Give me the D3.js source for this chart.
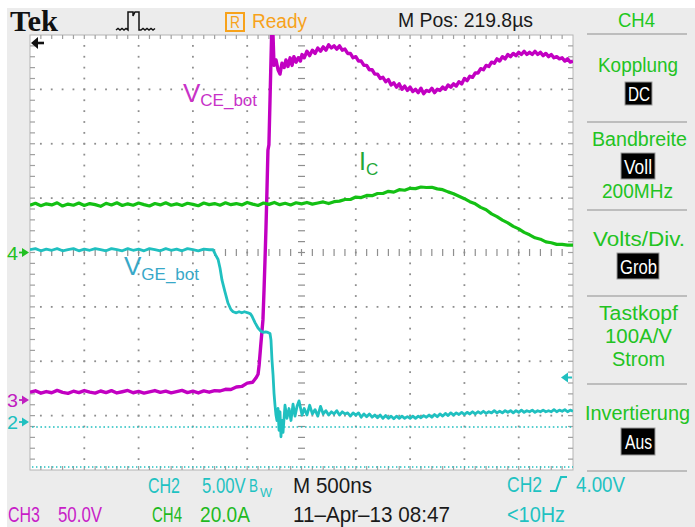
<!DOCTYPE html>
<html><head><meta charset="utf-8">
<script src="https://cdn.jsdelivr.net/npm/d3@7"></script>
<style>html,body{margin:0;padding:0;background:#fff}svg{display:block}</style>
</head><body>
<svg id="c" width="695" height="527"></svg>
<script>
// ---------- DATA ----------
// time in ns (0 = screen centre), 500 ns/div
const timeRange = [-2500, 2500];
// CH3: V_CE_bot [ns, V]  (50 V/div)
const vceBot = [[-2500,3.5],[-2450,4.8],[-2400,2.6],[-2350,4.1],[-2300,3.0],[-2250,5.2],[-2200,3.4],[-2150,2.4],[-2100,4.4],[-2050,3.1],[-2000,5.0],[-1950,3.6],[-1900,2.7],[-1850,4.6],[-1800,3.2],[-1750,4.9],[-1700,2.8],[-1650,3.9],[-1600,5.1],[-1550,3.0],[-1500,4.2],[-1450,2.6],[-1400,3.8],[-1350,5.0],[-1300,3.3],[-1250,4.5],[-1200,2.9],[-1150,4.0],[-1100,5.2],[-1050,3.1],[-1000,4.4],[-950,2.8],[-900,4.7],[-850,3.5],[-800,4.9],[-750,4.6],[-700,6.2],[-650,6.0],[-600,8.3],[-550,8.8],[-500,11.8],[-450,12.6],[-420,16.5],[-400,20.0],[-390,28.5],[-375,46.9],[-355,70],[-345,97.5],[-336,125],[-327,155],[-318,189],[-309,226],[-300,231],[-290,272],[-281,309],[-272,345],[-262,331],[-253,304],[-235,309],[-216,300],[-198,296],[-180,306],[-160,302],[-143,309],[-125,303],[-105,311],[-87,304],[-70,312],[-50,307],[-30,311],[-10,308],[5,314],[25,311],[50,317],[75,313],[100,318],[125,315],[150,320],[175,317],[200,321],[225,318],[250,323],[275,320],[300,322],[325,319],[350,322],[375,318],[400,319],[425,315],[450,315],[475,311],[500,312],[525,308],[550,308],[575,304],[600,304],[625,300],[650,300],[675,296],[700,296],[725,292],[750,293],[775,289],[800,291],[825,286],[850,288],[875,284],[900,287],[925,282],[950,285],[975,281],[1000,284],[1025,280],[1050,282],[1075,279],[1100,283],[1125,278],[1150,281],[1175,280],[1200,283],[1225,279],[1250,282],[1275,281],[1300,284],[1325,282],[1350,286],[1375,284],[1400,287],[1425,285],[1450,289],[1475,287],[1500,292],[1525,290],[1550,294],[1575,293],[1600,297],[1625,297],[1650,301],[1675,300],[1700,304],[1725,303],[1750,307],[1775,306],[1800,310],[1825,308],[1850,312],[1875,310],[1900,314],[1925,312],[1950,315],[1975,313],[2000,316],[2025,314],[2050,317],[2075,314],[2100,316],[2125,314],[2150,317],[2175,314],[2200,316],[2225,313],[2250,315],[2275,312],[2300,314],[2325,311],[2350,312],[2375,310],[2400,311],[2425,308],[2450,310],[2475,307],[2500,308]];
// CH4: I_C [ns, A]  (20 A/div)
const iC = [[-2500,17.4],[-2450,18.1],[-2400,17.2],[-2350,17.9],[-2300,17.5],[-2250,18.3],[-2200,17.1],[-2150,17.8],[-2100,17.4],[-2050,18.2],[-2000,17.3],[-1950,18.0],[-1900,17.6],[-1850,17.0],[-1800,18.1],[-1750,17.5],[-1700,18.3],[-1650,17.3],[-1600,17.9],[-1550,17.4],[-1500,18.2],[-1450,17.6],[-1400,17.1],[-1350,18.0],[-1300,17.5],[-1250,18.3],[-1200,17.4],[-1150,17.9],[-1100,17.3],[-1050,18.1],[-1000,17.7],[-950,17.2],[-900,18.2],[-850,17.6],[-800,18.0],[-750,17.4],[-700,18.3],[-650,17.6],[-600,18.0],[-550,17.5],[-500,18.4],[-450,17.8],[-400,17.3],[-350,18.2],[-300,17.7],[-250,18.4],[-200,17.6],[-150,18.1],[-100,17.5],[-50,18.3],[0,17.9],[50,18.4],[100,17.8],[150,18.2],[200,18.6],[250,18.0],[300,18.7],[350,18.9],[400,19.5],[450,19.5],[500,20.4],[550,20.2],[600,21.0],[650,20.9],[700,21.7],[750,21.7],[800,22.5],[850,22.2],[900,23.1],[950,22.9],[1000,23.6],[1050,23.5],[1100,24.1],[1150,23.9],[1200,24.0],[1250,23.4],[1300,23.1],[1350,22.3],[1400,21.6],[1450,20.7],[1500,19.8],[1550,18.7],[1600,17.9],[1650,16.6],[1700,15.7],[1750,14.2],[1800,13.2],[1850,11.9],[1900,10.9],[1950,9.6],[2000,8.7],[2050,7.4],[2100,6.5],[2150,5.4],[2200,4.9],[2250,3.9],[2300,3.6],[2350,3.0],[2400,3.0],[2450,2.7],[2500,2.7]];
// CH2: V_GE_bot [ns, V]  (5 V/div)
const vgeBot = [[-2500,16.3],[-2450,16.4],[-2400,16.2],[-2350,16.35],[-2300,16.25],[-2250,16.4],[-2200,16.2],[-2150,16.3],[-2100,16.4],[-2050,16.2],[-2000,16.35],[-1950,16.25],[-1900,16.4],[-1850,16.3],[-1800,16.2],[-1750,16.4],[-1700,16.3],[-1650,16.2],[-1600,16.4],[-1550,16.25],[-1500,16.35],[-1450,16.2],[-1400,16.4],[-1350,16.3],[-1300,16.2],[-1250,16.4],[-1200,16.25],[-1150,16.35],[-1100,16.2],[-1050,16.4],[-1000,16.3],[-950,16.2],[-900,16.35],[-850,16.3],[-815,16.3],[-790,15.8],[-768,15.4],[-750,14.6],[-732,13.5],[-704,12.4],[-677,11.4],[-650,10.8],[-630,10.6],[-600,10.5],[-575,10.6],[-550,10.5],[-525,10.6],[-493,10.5],[-470,10.4],[-456,10.2],[-428,9.6],[-400,9.1],[-373,8.8],[-350,8.7],[-330,8.75],[-310,8.7],[-290,8.6],[-281,8.0],[-272,6.2],[-262,4.8],[-253,3.1],[-244,2.0],[-235,1.1],[-226,0.6],[-216,1.7],[-207,-0.3],[-198,1.4],[-189,-0.9],[-180,0.6],[-170,-0.5],[-152,2.0],[-134,0.8],[-115,1.7],[-97,0.6],[-78,2.1],[-60,1.0],[-41,1.9],[-23,2.4],[5,1.1],[25,1.7],[50,1.1],[75,2.0],[100,1.2],[125,1.6],[150,1.0],[175,1.9],[200,1.2],[225,1.5],[250,1.1],[275,1.4],[300,1.2],[325,1.5],[350,1.1],[375,1.4],[400,1.2],[425,1.3],[450,1.0],[475,1.3],[500,1.1],[525,1.3],[550,0.9],[575,1.2],[600,0.95],[625,1.2],[650,0.9],[675,1.1],[700,0.85],[725,1.1],[750,0.8],[775,1.05],[800,0.8],[825,1.0],[850,0.75],[875,1.0],[900,0.8],[925,1.0],[950,0.8],[975,0.95],[1000,0.8],[1025,1.0],[1050,0.8],[1075,1.0],[1100,0.85],[1125,1.05],[1150,0.9],[1175,1.1],[1200,0.9],[1225,1.15],[1250,0.95],[1275,1.2],[1300,1.0],[1325,1.25],[1350,1.05],[1375,1.3],[1400,1.1],[1425,1.3],[1450,1.15],[1475,1.35],[1500,1.15],[1525,1.35],[1550,1.2],[1575,1.4],[1600,1.2],[1625,1.4],[1650,1.25],[1675,1.45],[1700,1.25],[1725,1.4],[1750,1.3],[1775,1.5],[1800,1.3],[1825,1.45],[1850,1.3],[1875,1.5],[1900,1.35],[1925,1.5],[1950,1.3],[1975,1.5],[2000,1.35],[2025,1.55],[2050,1.35],[2075,1.5],[2100,1.4],[2125,1.55],[2150,1.35],[2175,1.5],[2200,1.4],[2225,1.55],[2250,1.4],[2275,1.5],[2300,1.4],[2325,1.6],[2350,1.4],[2375,1.55],[2400,1.45],[2425,1.6],[2450,1.4],[2475,1.55],[2500,1.45]];
// channel settings
const chNames = ["CH2","CH3","CH4"];
const chPerDiv = [5, 50, 20];
const triggerLevel = 4.0; // V on CH2
// texts
const topTexts = ["Tek","R","Ready","M Pos: 219.8µs","CH4"];
const panelTexts = ["Kopplung","DC","Bandbreite","Voll","200MHz","Volts/Div.","Grob","Tastkopf","100A/V","Strom","Invertierung","Aus"];
const bottomTexts = ["CH2","5.00V","B","W","M 500ns","CH2","4.00V","CH3","50.0V","CH4","20.0A","11\u2013Apr\u201313 08:47","<10Hz"];
const traceLabels = [["V","CE_bot"],["I","C"],["V","GE_bot"]];

// ---------- DRAW ----------
const svg = d3.select('#c');
const W = 695, H = 527;
const L = 30, R = 573, T = 35, B = 470;
const divY = (B - T) / 8;
const SCOPE = "'Liberation Sans', Arial, sans-serif";

svg.append('rect').attr('width', W).attr('height', H).attr('fill', '#fff');
svg.append('rect').attr('x', 7).attr('y', 8).attr('width', W - 7).attr('height', H - 8).attr('fill', '#ececec');
svg.append('rect').attr('x', L).attr('y', T).attr('width', R - L).attr('height', B - T)
  .attr('fill', '#fff').attr('stroke', '#b4b4b4').attr('stroke-width', 1);

const x = d3.scaleLinear().domain(timeRange).range([L, R]);
function yFor(perDiv, zeroY) {
  return d3.scaleLinear().domain([(zeroY - B) / divY * perDiv, (zeroY - T) / divY * perDiv]).range([B, T]);
}
const zeroY = {CH2: 427, CH3: 396, CH4: 252.5};
const y2 = yFor(chPerDiv[0], zeroY.CH2);
const y3 = yFor(chPerDiv[1], zeroY.CH3);
const y4 = yFor(chPerDiv[2], zeroY.CH4);

// grid
const g = svg.append('g');
const minorT = d3.range(-2400, 2401, 100);
const minorY = d3.range(1, 40).map(j => T + j * divY / 5);
const majorT = [-2000, -1500, -1000, -500, 500, 1000, 1500, 2000];
const majorY = [1, 2, 3, 5, 6, 7].map(k => T + k * divY);
const dotCol = '#8e8e8e';
majorT.forEach(t => minorY.forEach(yy => g.append('rect').attr('x', x(t) - 0.9).attr('y', yy - 0.9).attr('width', 1.8).attr('height', 1.8).attr('fill', dotCol)));
majorY.forEach(yy => minorT.forEach(t => g.append('rect').attr('x', x(t) - 0.9).attr('y', yy - 0.9).attr('width', 1.8).attr('height', 1.8).attr('fill', dotCol)));
const xc = x(0), yc = T + 4 * divY;
minorY.forEach(yy => g.append('line').attr('x1', xc - 3.5).attr('x2', xc + 3.5).attr('y1', yy).attr('y2', yy).attr('stroke', dotCol).attr('stroke-width', 1.2));
minorT.forEach(t => g.append('line').attr('x1', x(t)).attr('x2', x(t)).attr('y1', yc - 3.5).attr('y2', yc + 3.5).attr('stroke', dotCol).attr('stroke-width', 1.2));
// border ticks
minorT.forEach(t => {
  g.append('line').attr('x1', x(t)).attr('x2', x(t)).attr('y1', T).attr('y2', T + 4).attr('stroke', '#a0a0a0').attr('stroke-width', 1.2);
  g.append('line').attr('x1', x(t)).attr('x2', x(t)).attr('y1', B - 4).attr('y2', B).attr('stroke', '#a0a0a0').attr('stroke-width', 1.2);
});
minorY.forEach(yy => {
  g.append('line').attr('x1', L).attr('x2', L + 5).attr('y1', yy).attr('y2', yy).attr('stroke', '#a0a0a0').attr('stroke-width', 1.2);
  g.append('line').attr('x1', R - 5).attr('x2', R).attr('y1', yy).attr('y2', yy).attr('stroke', '#a0a0a0').attr('stroke-width', 1.2);
});

// ch2 ground dotted lines
svg.append('line').attr('x1', L + 2).attr('x2', R).attr('y1', y2(0)).attr('y2', y2(0))
  .attr('stroke', '#22c0c0').attr('stroke-width', 1.6).attr('stroke-dasharray', '1.6,2.6');
svg.append('line').attr('x1', L + 2).attr('x2', R).attr('y1', B - 3).attr('y2', B - 3)
  .attr('stroke', '#22c0c0').attr('stroke-width', 1.4).attr('stroke-dasharray', '1.4,2.6');

// traces
svg.append('clipPath').attr('id', 'clip').append('rect').attr('x', L).attr('y', T).attr('width', R - L).attr('height', B - T);
const tr = svg.append('g').attr('clip-path', 'url(#clip)');
function drawTrace(data, ys, col, w) {
  tr.append('path').datum(data).attr('fill', 'none').attr('stroke', col).attr('stroke-width', w)
    .attr('stroke-linejoin', 'round')
    .attr('d', d3.line().x(d => x(d[0])).y(d => ys(d[1])));
}
drawTrace(vceBot, y3, '#c200c2', 3.4);
drawTrace(vgeBot, y2, '#20c0c0', 2.8);
drawTrace(iC, y4, '#14c014', 3.2);

// trace labels
function label(parts, xx, yy, col, big, small, dy) {
  const t = svg.append('text').attr('x', xx).attr('y', yy).attr('fill', col).attr('font-family', "'Liberation Sans', Arial, sans-serif");
  t.append('tspan').attr('font-size', big).text(parts[0]);
  t.append('tspan').attr('font-size', small).attr('dy', dy).text(parts[1]);
}
label(traceLabels[0], 183, 102, '#c832c8', 26, 17, 4);
label(traceLabels[1], 359, 170, '#1fa83a', 25, 17, 5);
label(traceLabels[2], 124, 275, '#38a8c8', 26, 17, 5);

// channel markers on left
function marker(txt, yy, col) {
  svg.append('text').attr('x', 7).attr('y', yy + 7).attr('fill', col).attr('font-family', SCOPE).attr('font-size', 19)
    .attr('textLength', 11).attr('lengthAdjust', 'spacingAndGlyphs').text(txt);
  svg.append('line').attr('x1', 19).attr('x2', 27).attr('y1', yy).attr('y2', yy).attr('stroke', col).attr('stroke-width', 1.8);
  svg.append('path').attr('d', `M22,${yy - 4.5}L29,${yy}L22,${yy + 4.5}Z`).attr('fill', col);
}
marker('4', y4(0), '#22c022');
marker('3', y3(0) + 4, '#c020c0');
marker('2', y2(0) - 5, '#20c0c0');

// trigger level arrow on right
const ty = y2(triggerLevel) - 6;
svg.append('path').attr('d', `M561,${ty}L568,${ty - 5}L568,${ty + 5}Z`).attr('fill', '#20c0c0');
svg.append('line').attr('x1', 566).attr('x2', 572).attr('y1', ty).attr('y2', ty).attr('stroke', '#20c0c0').attr('stroke-width', 2);

// top-left horizontal position arrow
svg.append('path').attr('d', 'M31,43L38,37L38,49Z').attr('fill', '#111');
svg.append('line').attr('x1', 36).attr('x2', 44).attr('y1', 43).attr('y2', 43).attr('stroke', '#111').attr('stroke-width', 2.6);

// generic fitted text
function ftxt(txt, xx, yy, w, size, col, family) {
  return svg.append('text').attr('x', xx).attr('y', yy).attr('fill', col)
    .attr('font-family', family || SCOPE).attr('font-size', size)
    .attr('textLength', w).attr('lengthAdjust', 'spacingAndGlyphs').text(txt);
}

// top bar
ftxt(topTexts[0], 10, 31, 48, 29, '#111', "'Liberation Serif', 'Times New Roman', serif").attr('font-weight', 'bold');
svg.append('path').attr('d', 'M116,30l2,-1.5l2,1.5l2,-1.5l2,1.5l2,-1.5L128,30L128,12L133,12L133,16L135,12L139,12L139,30L141,30l2,-1.5l2,1.5l2,-1.5l2,1.5l2,-1.5l2,1.5l2,-1.5')
  .attr('fill', 'none').attr('stroke', '#111').attr('stroke-width', 1.5);
svg.append('rect').attr('x', 226).attr('y', 13).attr('width', 18).attr('height', 18).attr('fill', 'none').attr('stroke', '#f7a21b').attr('stroke-width', 2);
ftxt(topTexts[1], 230, 28, 10, 16, '#f7a21b');
ftxt(topTexts[2], 252, 28, 55, 20, '#f7a21b');
ftxt(topTexts[3], 398, 27, 135, 20, '#1a1a1a');
ftxt(topTexts[4], 618, 27, 37, 20, '#1ec81e');

// right panel
const green = '#22c322';
[34, 122, 210, 296, 384, 471].forEach(yy => svg.append('line').attr('x1', 587).attr('x2', 687).attr('y1', yy).attr('y2', yy).attr('stroke', '#bdbdbd').attr('stroke-width', 2));
function box(txt, bx, by, bw, bh, tx, tyy, tw) {
  svg.append('rect').attr('x', bx).attr('y', by).attr('width', bw).attr('height', bh).attr('fill', '#000').attr('stroke', '#9a9a9a').attr('stroke-width', 1);
  ftxt(txt, tx, tyy, tw, 20, '#fff');
}
ftxt(panelTexts[0], 598, 72, 80, 20, green);
box(panelTexts[1], 625, 82, 27, 23, 628, 101, 22);
ftxt(panelTexts[2], 592, 146, 95, 20, green);
box(panelTexts[3], 621, 153, 34, 26, 624, 174, 28);
ftxt(panelTexts[4], 602, 198, 71, 20, green);
ftxt(panelTexts[5], 593, 246, 92, 20, green);
box(panelTexts[6], 617, 253, 42, 26, 620, 274, 37);
ftxt(panelTexts[7], 599, 320, 79, 20, green);
ftxt(panelTexts[8], 605, 343, 67, 20, green);
ftxt(panelTexts[9], 612, 366, 53, 20, green);
ftxt(panelTexts[10], 585, 420, 105, 20, green);
box(panelTexts[11], 621, 428, 34, 27, 625, 449, 27);

// bottom status
const cyan = '#1fc2c2', mag = '#c81ec8', grn = '#1fba1f', blk = '#1a1a1a';
ftxt(bottomTexts[0], 148, 493, 32, 22, cyan);
// "5.00V" compressed horizontally by a transform so its box ends before "B"
svg.append('text').attr('transform', 'translate(202,493) scale(0.76,1)').attr('fill', cyan)
  .attr('font-family', SCOPE).attr('font-size', 22).text(bottomTexts[1]);
ftxt(bottomTexts[2], 249, 492, 9, 18, cyan);
ftxt(bottomTexts[3], 260, 497, 12, 12, cyan);
ftxt(bottomTexts[4], 293, 493, 79, 22, blk);
ftxt(bottomTexts[5], 507, 492, 35, 22, cyan);
svg.append('path').attr('d', 'M550,491L556,491L561,477L567,477').attr('fill', 'none').attr('stroke', cyan).attr('stroke-width', 2);
ftxt(bottomTexts[6], 576, 492, 49, 22, cyan);
ftxt(bottomTexts[7], 8, 522, 32, 22, mag);
ftxt(bottomTexts[8], 58, 522, 44, 22, mag);
ftxt(bottomTexts[9], 152, 522, 30, 22, grn);
ftxt(bottomTexts[10], 200, 522, 50, 22, grn);
ftxt(bottomTexts[11], 293, 522, 157, 22, blk);
ftxt(bottomTexts[12], 507, 522, 58, 22, cyan);
</script>
</body></html>
